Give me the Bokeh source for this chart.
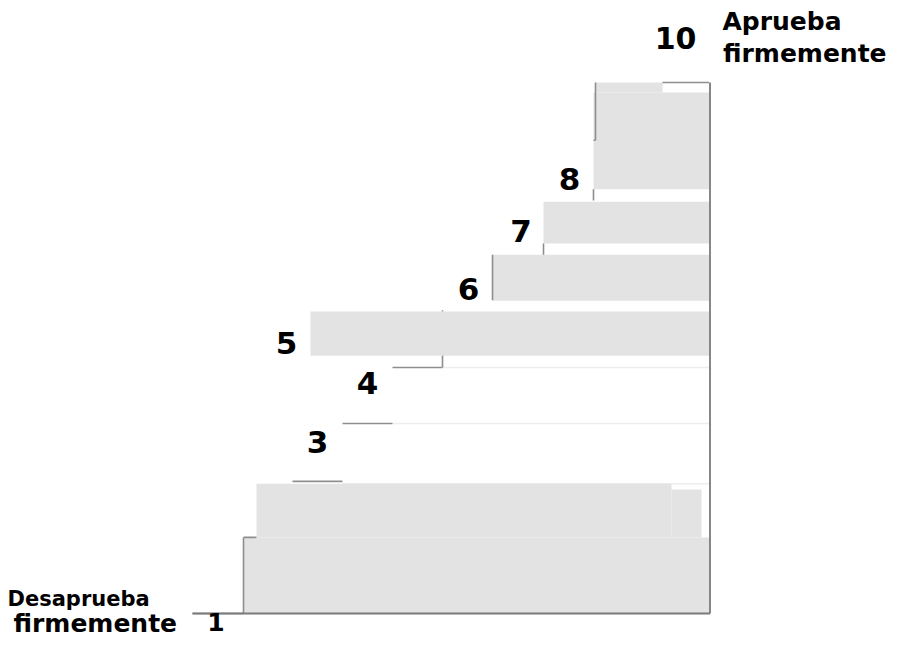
from bokeh.plotting import figure
from bokeh.models import Range1d, ColumnDataSource
from bokeh.core.properties import value
from bokeh.embed import file_html
from bokeh.resources import INLINE

# ---- data (x in step units, y in level units) ----
# scale labels of the stair
label_text = ["1", "3", "4", "5", "6", "7", "8", "10"]
label_x = [0.46, 2.49, 3.49, 1.87, 5.51, 6.56, 7.53, 9.65]
label_y = [-0.1525, 2.905, 3.905, 4.583, 5.498, 6.481, 7.363, 9.746]
label_size = ["25px", "31px", "31px", "31px", "31px", "31px", "31px", "30px"]

# end-point captions
cap_text = ["Desaprueba", "firmemente", "Aprueba", "firmemente"]
cap_x = [-3.71, -3.59, 10.59, 10.60]
cap_y = [0.244, -0.17, 10.035, 9.49]
cap_size = ["21px", "25px", "25px", "25px"]

# visible stair treads (horizontal edges)
tread_left = [-0.01, 1.01, 1.99, 2.99, 3.99, 8.01, 9.39]
tread_right = [1.01, 1.27, 2.99, 3.99, 4.99, 8.05, 10.32]
tread_y = [0.0, 1.29, 2.24, 3.22, 4.17, 8.02, 9.0]

# visible stair risers (vertical edges)
riser_x = [1.01, 4.99, 4.99, 5.99, 7.01, 8.01, 8.05]
riser_bottom = [0.0, 4.17, 5.12, 5.31, 6.08, 7.00, 8.02]
riser_top = [1.29, 4.37, 5.14, 6.08, 6.27, 7.19, 9.0]

# faint guide lines under the empty steps
guide_left = [2.99, 3.99, 4.99, 5.99]
guide_y = [2.20, 3.22, 4.17, 5.31]

# shaded response bands
band_left = [1.01, 1.27, 9.57, 2.35, 5.99, 7.01, 8.01, 8.05]
band_right = [10.34, 9.57, 10.17, 10.34, 10.34, 10.34, 10.34, 9.39]
band_bottom = [0.0, 1.29, 1.29, 4.37, 5.31, 6.27, 7.19, 8.83]
band_top = [1.29, 2.20, 2.10, 5.12, 6.08, 6.98, 8.83, 9.0]

frame_right = 10.34
frame_top = 9.0

# ---- figure ----
p = figure(width=891, height=638, output_backend="svg", toolbar_location=None,
           x_range=Range1d(-3.85, 13.97), y_range=Range1d(-0.424, 10.39),
           min_border=0, outline_line_color=None, background_fill_color="white")
p.axis.visible = False
p.grid.visible = False

line_col = "#8e8e8e"
font = value("DejaVu Sans")

p.segment(x0=guide_left, y0=guide_y, x1=[frame_right] * len(guide_y), y1=guide_y,
          line_color="#eeeeee", line_width=1.5)

p.quad(left=band_left, right=band_right, bottom=band_bottom, top=band_top,
       fill_color="#e3e3e3", line_color=None)

p.segment(x0=tread_left, y0=tread_y, x1=tread_right, y1=tread_y,
          line_color=line_col, line_width=1.6)
p.segment(x0=riser_x, y0=riser_bottom, x1=riser_x, y1=riser_top,
          line_color=line_col, line_width=1.6)

# right border and base line
p.segment(x0=[frame_right, -0.01], y0=[0.0, 0.0], x1=[frame_right, frame_right],
          y1=[frame_top, 0.0], line_color="#7a7a7a", line_width=1.8)

src = ColumnDataSource(dict(x=label_x, y=label_y, t=label_text, s=label_size))
p.text(x="x", y="y", text="t", source=src, text_font=font, text_font_style="bold",
       text_font_size="s", text_align="center", text_baseline="alphabetic",
       text_color="black")

src2 = ColumnDataSource(dict(x=cap_x, y=cap_y, t=cap_text, s=cap_size))
p.text(x="x", y="y", text="t", source=src2, text_font=font, text_font_style="bold",
       text_font_size="s", text_align="left", text_baseline="alphabetic",
       text_color="black")

open("out.html", "w").write(file_html(p, INLINE))
